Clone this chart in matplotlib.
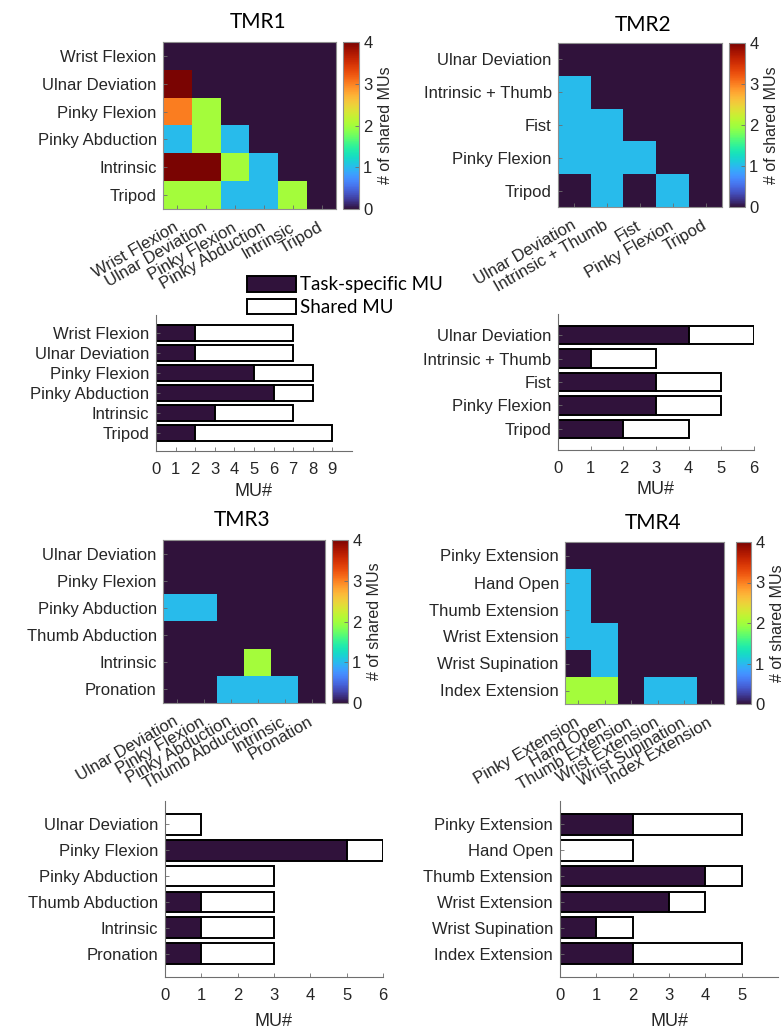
import numpy as np
import matplotlib
matplotlib.use("Agg")
import matplotlib.pyplot as plt
import matplotlib.transforms as mtransforms
from matplotlib.patches import Patch

# ---------------- data ----------------
tmr1_tasks = ["Wrist Flexion", "Ulnar Deviation", "Pinky Flexion",
              "Pinky Abduction", "Intrinsic", "Tripod"]
tmr1_overlap = [
    [0, 0, 0, 0, 0, 0],
    [4, 0, 0, 0, 0, 0],
    [3, 2, 0, 0, 0, 0],
    [1, 2, 1, 0, 0, 0],
    [4, 4, 2, 1, 0, 0],
    [2, 2, 1, 1, 2, 0],
]
tmr1_specific = [2, 2, 5, 6, 3, 2]
tmr1_shared = [5, 5, 3, 2, 4, 7]

tmr2_tasks = ["Ulnar Deviation", "Intrinsic + Thumb", "Fist",
              "Pinky Flexion", "Tripod"]
tmr2_overlap = [
    [0, 0, 0, 0, 0],
    [1, 0, 0, 0, 0],
    [1, 1, 0, 0, 0],
    [1, 1, 1, 0, 0],
    [0, 1, 0, 1, 0],
]
tmr2_specific = [4, 1, 3, 3, 2]
tmr2_shared = [2, 2, 2, 2, 2]

tmr3_tasks = ["Ulnar Deviation", "Pinky Flexion", "Pinky Abduction",
              "Thumb Abduction", "Intrinsic", "Pronation"]
tmr3_overlap = [
    [0, 0, 0, 0, 0, 0],
    [0, 0, 0, 0, 0, 0],
    [1, 1, 0, 0, 0, 0],
    [0, 0, 0, 0, 0, 0],
    [0, 0, 0, 2, 0, 0],
    [0, 0, 1, 1, 1, 0],
]
tmr3_specific = [0, 5, 0, 1, 1, 1]
tmr3_shared = [1, 1, 3, 2, 2, 2]

tmr4_tasks = ["Pinky Extension", "Hand Open", "Thumb Extension",
              "Wrist Extension", "Wrist Supination", "Index Extension"]
tmr4_overlap = [
    [0, 0, 0, 0, 0, 0],
    [1, 0, 0, 0, 0, 0],
    [1, 0, 0, 0, 0, 0],
    [1, 1, 0, 0, 0, 0],
    [0, 1, 0, 0, 0, 0],
    [2, 2, 0, 1, 1, 0],
]
tmr4_specific = [2, 0, 4, 3, 1, 2]
tmr4_shared = [3, 2, 1, 1, 1, 3]

legend_labels = ["Task-specific MU", "Shared MU"]

# ---------------- style ----------------
W, H = 782, 1032
plt.rcParams["font.family"] = ["Liberation Sans", "DejaVu Sans"]
TEXT = "#262626"
AXIS = "#6e6e6e"
FRAME = "#8f8f8f"
CMAP = plt.get_cmap("turbo")
DARK = CMAP(0.0)
TITLE_FONT = ["Lato", "DejaVu Sans"]

fig = plt.figure(figsize=(W / 100, H / 100), dpi=100)


def rect(x0, y0, x1, y1):
    return [x0 / W, 1 - y1 / H, (x1 - x0) / W, (y1 - y0) / H]


def heatmap(box, cbox, title, title_xy, tasks, matrix):
    ax = fig.add_axes(rect(*box))
    im = ax.imshow(np.array(matrix), cmap=CMAP, vmin=0, vmax=4,
                   aspect="auto", interpolation="nearest")
    n = len(tasks)
    ax.set_xticks(range(n))
    ax.set_yticks(range(n))
    ax.set_yticklabels(tasks, fontsize=12, color=TEXT)
    ax.set_xticklabels(tasks, fontsize=12, color=TEXT, rotation=30,
                       ha="right", va="center", rotation_mode="anchor")
    shift = mtransforms.ScaledTranslation(3 / 100, 0, fig.dpi_scale_trans)
    for lab in ax.get_xticklabels():
        lab.set_transform(lab.get_transform() + shift)
    ax.tick_params(axis="y", direction="in", length=3, width=0.6,
                   color=AXIS, pad=4.5)
    ax.tick_params(axis="x", direction="in", length=3, width=0.6,
                   color=AXIS, pad=12.5)
    for s in ax.spines.values():
        s.set_color(FRAME)
        s.set_linewidth(0.8)
    fig.text(title_xy[0] / W, 1 - title_xy[1] / H, title, fontsize=15,
             family=TITLE_FONT, ha="center", va="center", color="black")

    cax = fig.add_axes(rect(*cbox))
    cb = fig.colorbar(im, cax=cax, ticks=[0, 1, 2, 3, 4])
    cb.outline.set_edgecolor(FRAME)
    cb.outline.set_linewidth(0.8)
    cax.tick_params(direction="in", length=3, width=0.6, color=AXIS,
                    labelsize=12, labelcolor=TEXT, pad=3)
    cb.set_label("# of shared MUs", fontsize=11.5, color=TEXT, labelpad=4)


def barchart(box, tasks, specific, shared, xmax, ticks, xlabel_xy):
    ax = fig.add_axes(rect(*box))
    n = len(tasks)
    y = np.arange(1, n + 1)
    ax.barh(y, specific, height=0.8, color=DARK, edgecolor="black",
            linewidth=1.4)
    ax.barh(y, shared, left=specific, height=0.8, color="white",
            edgecolor="black", linewidth=1.4)
    ax.set_xlim(0, xmax)
    ax.set_ylim(n + 0.9, 0.1)
    ax.set_yticks(y)
    ax.set_yticklabels(tasks, fontsize=12, color=TEXT)
    ax.set_xticks(ticks)
    ax.set_xticklabels([str(t) for t in ticks], fontsize=12, color=TEXT)
    ax.tick_params(axis="y", direction="in", length=3, width=0.6,
                   color=AXIS, pad=5)
    ax.tick_params(axis="x", direction="in", length=3, width=0.6,
                   color=AXIS, pad=8)
    for side in ("top", "right"):
        ax.spines[side].set_visible(False)
    for side in ("left", "bottom"):
        ax.spines[side].set_color(AXIS)
        ax.spines[side].set_linewidth(0.8)
    fig.text(xlabel_xy[0] / W, 1 - xlabel_xy[1] / H, "MU#", fontsize=13,
             ha="center", va="center", color=TEXT)
    return ax


heatmap((163, 42, 336, 209), (343, 42, 359, 209), "TMR1", (258, 22),
        tmr1_tasks, tmr1_overlap)
heatmap((558, 43, 722, 207), (729, 43, 745, 207), "TMR2", (643, 25),
        tmr2_tasks, tmr2_overlap)
heatmap((163, 540, 325, 703), (332, 540, 348, 703), "TMR3", (242, 520),
        tmr3_tasks, tmr3_overlap)
heatmap((565, 542, 724, 704), (736, 542, 751, 704), "TMR4", (653, 523),
        tmr4_tasks, tmr4_overlap)

barchart((156, 315, 352, 451), tmr1_tasks, tmr1_specific, tmr1_shared,
         10, list(range(10)), (253, 492))
barchart((558, 314, 754, 450), tmr2_tasks, tmr2_specific, tmr2_shared,
         6, list(range(7)), (656, 490))
barchart((165, 801, 383, 977), tmr3_tasks, tmr3_specific, tmr3_shared,
         6, list(range(7)), (274, 1021))
barchart((560, 801, 778, 977), tmr4_tasks, tmr4_specific, tmr4_shared,
         6, list(range(6)), (669, 1021))

handles = [Patch(facecolor=DARK, edgecolor="black", linewidth=1.4),
           Patch(facecolor="white", edgecolor="black", linewidth=1.4)]
fig.legend(handles, legend_labels, loc="upper left",
           bbox_to_anchor=(247 / W, 1 - 276 / H),
           bbox_transform=fig.transFigure, frameon=False, borderpad=0,
           borderaxespad=0, handlelength=2.6, handleheight=0.9,
           handletextpad=0.25, labelspacing=0.3,
           prop={"family": TITLE_FONT, "size": 13.5})

fig.savefig("out.png", dpi=100)
